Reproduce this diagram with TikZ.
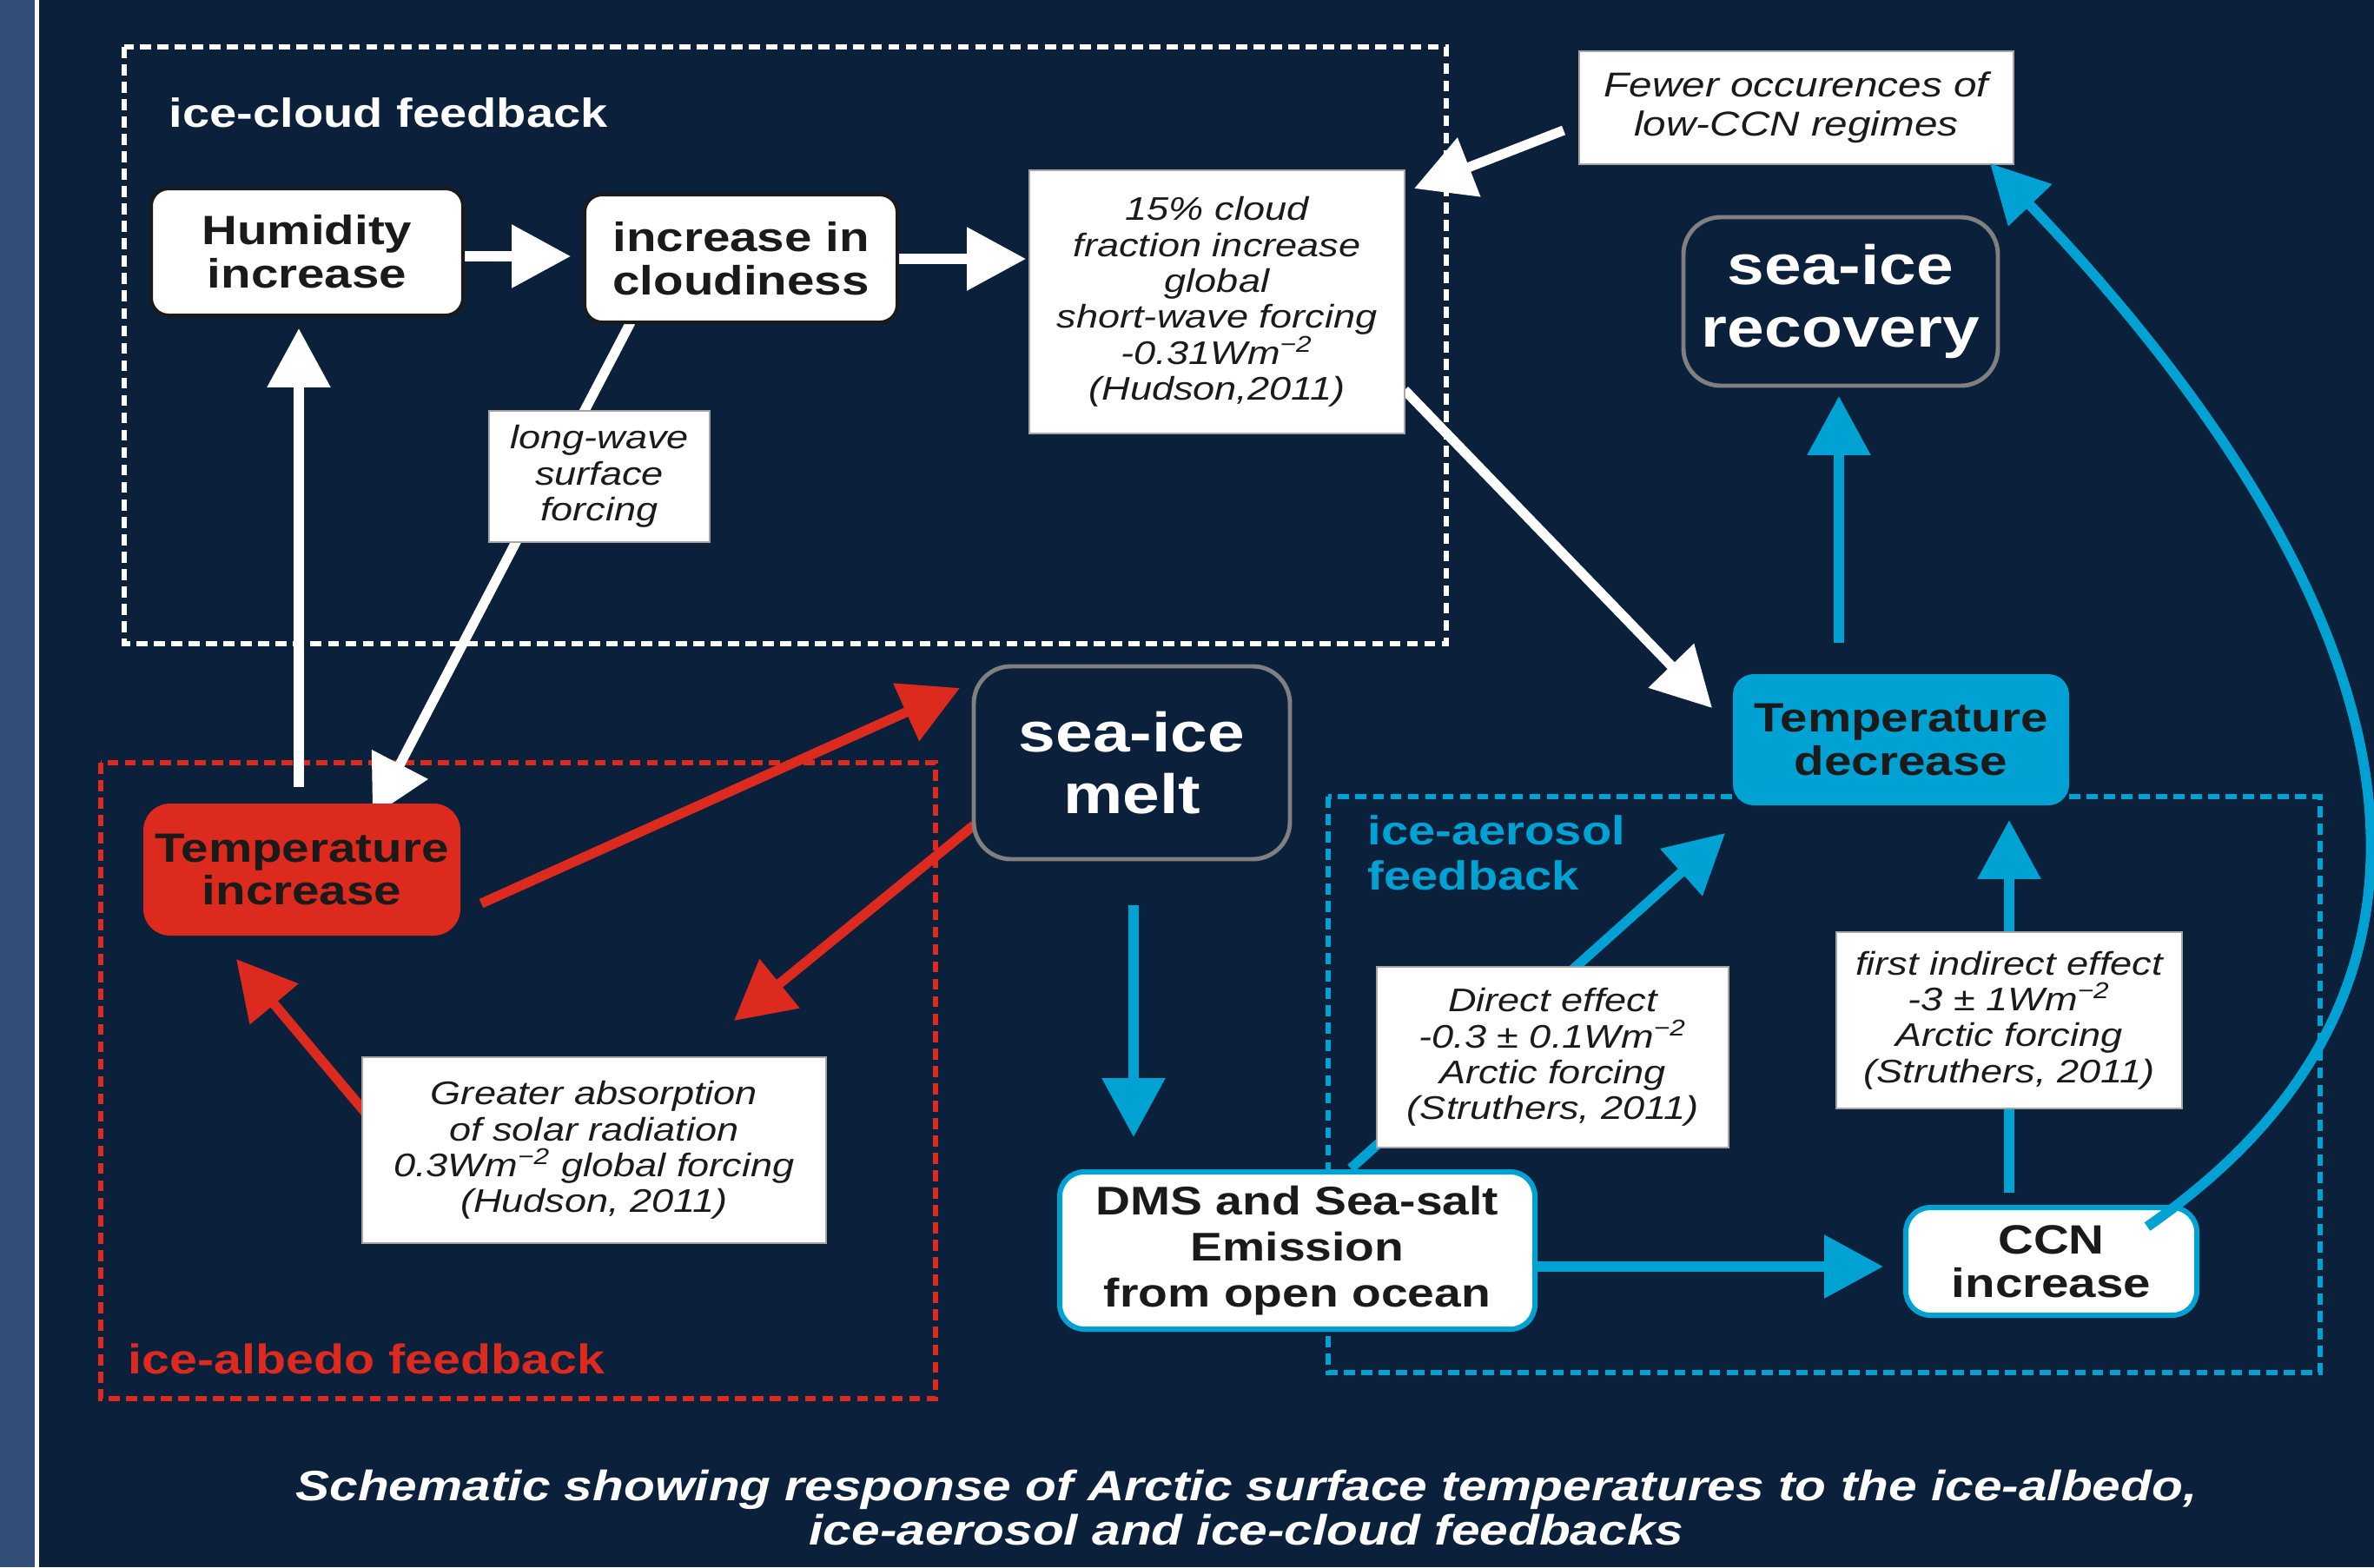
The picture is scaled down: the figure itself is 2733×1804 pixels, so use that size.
\documentclass[tikz,border=0pt]{standalone}
\usepackage{fontspec}
\setmainfont{Liberation Sans}[FakeStretch=1.2]
\usetikzlibrary{arrows.meta,calc}
\definecolor{navy}{RGB}{11,32,58}
\definecolor{stripblue}{RGB}{51,79,120}
\definecolor{fbred}{RGB}{220,43,30}
\definecolor{fbblue}{RGB}{0,161,211}
\definecolor{framegray}{RGB}{128,128,128}
\definecolor{inkdark}{RGB}{26,26,26}
\pgfdeclarelayer{back}
\pgfdeclarelayer{links}
\pgfsetlayers{back,links,main}
\tikzset{
  boldtxt/.style={font=\bfseries\fontsize{13.4}{14.2}\selectfont},
  bigtxt/.style={font=\bfseries\fontsize{18.2}{20.3}\selectfont},
  notetxt/.style={font=\itshape\fontsize{10.7}{11.8}\selectfont},
  whitebox/.style={boldtxt, draw=inkdark, line width=1.14pt, fill=white, text=inkdark,
    rounded corners=5.7pt, align=center, inner sep=0pt},
  redbox/.style={boldtxt, fill=fbred, text=inkdark, rounded corners=8.8pt, align=center, inner sep=0pt},
  bluebox/.style={boldtxt, fill=fbblue, text=inkdark, rounded corners=6.8pt, align=center, inner sep=0pt},
  darkbox/.style={bigtxt, draw=framegray, line width=1.4pt, fill=navy, text=white,
    rounded corners=12.2pt, align=center, inner sep=0pt},
  emitbox/.style={boldtxt, draw=fbblue, line width=1.7pt, fill=white, text=inkdark,
    rounded corners=8pt, align=center, inner sep=0pt},
  notebox/.style={notetxt, draw=gray!70, line width=0.3pt, fill=white, text=inkdark,
    align=center, inner sep=0pt},
  conn/.style={line width=3.2pt, -{Triangle[length=19.3pt,width=20pt]}},
  wconn/.style={conn, color=white},
  rconn/.style={conn, color=fbred},
  bconn/.style={conn, color=fbblue},
  groupframe/.style={line width=1.9pt, dash pattern=on 3.6pt off 2.1pt},
  grouplabel/.style={font=\bfseries\fontsize{13.3}{14.8}\selectfont, inner sep=0pt}
}
\begin{document}
\begin{tikzpicture}[x=0.1mm,y=-0.1mm]
\useasboundingbox (0,0) rectangle (2733,1804);
\begin{pgfonlayer}{back}
  \fill[navy] (0,0) rectangle (2733,1804);
  \fill[stripblue] (0,0) rectangle (40,1804);
  \fill[white] (40,0) rectangle (45,1804);
  \draw[groupframe, white] (143,54) rectangle (1665,741);
  \draw[groupframe, fbred] (116,878) rectangle (1077,1610);
  \draw[groupframe, fbblue] (1529,917) rectangle (2671,1580);
\end{pgfonlayer}

% group labels
\node[grouplabel, text=white, anchor=base west] (lblcloud) at (194,146) {ice-cloud feedback};
\node[grouplabel, text=fbred, anchor=base west, font=\bfseries\fontsize{13.6}{15}\selectfont] (lblalbedo) at (147,1581) {ice-albedo feedback};
\node[grouplabel, text=fbblue, anchor=north west, align=left] (lblaerosol) at (1574,938) {ice-aerosol\\feedback};

% nodes
\node[whitebox, minimum width=35.9mm, minimum height=14.6mm] (hum) at (353.5,290) {Humidity\\increase};
\node[whitebox, minimum width=36.0mm, minimum height=14.7mm] (cloud) at (853,297.5) {increase in\\cloudiness};
\node[notebox, minimum width=43.2mm, minimum height=30.3mm] (cf15) at (1401,347.5)
  {15\% cloud\\fraction increase\\global\\short-wave forcing\\-0.31Wm\textsuperscript{−2}\\(Hudson,2011)};
\node[notebox, font=\itshape\fontsize{11.3}{12.8}\selectfont, minimum width=50mm, minimum height=13mm] (fewer) at (2068,124)
  {Fewer occurences of\\low-CCN regimes};
\node[darkbox, minimum width=36.2mm, minimum height=19.4mm] (recov) at (2119,347) {sea-ice\\recovery};
\node[bluebox, minimum width=38.7mm, minimum height=15.1mm] (tdec) at (2188.5,851.5) {Temperature\\decrease};
\node[redbox, minimum width=36.5mm, minimum height=15.2mm] (tinc) at (347.5,1001) {Temperature\\increase};
\node[darkbox, minimum width=36.4mm, minimum height=22.2mm] (melt) at (1303,878) {sea-ice\\melt};
\node[notebox, minimum width=25.4mm, minimum height=15.1mm] (lw) at (690,548.5) {long-wave\\surface\\forcing};
\node[notebox, minimum width=53.4mm, minimum height=21.4mm] (grt) at (684,1324)
  {Greater absorption\\of solar radiation\\0.3Wm\textsuperscript{−2} global forcing\\(Hudson, 2011)};
\node[emitbox, font=\bfseries\fontsize{13.1}{15.1}\selectfont, minimum width=54.7mm, minimum height=18.1mm] (dms) at (1493.5,1439.5)
  {DMS and Sea-salt\\Emission\\from open ocean};
\node[emitbox, minimum width=33.5mm, minimum height=12.4mm] (ccn) at (2361.5,1452) {CCN\\increase};
\node[notebox, minimum width=40.5mm, minimum height=20.8mm] (dir) at (1787.5,1217)
  {Direct effect\\-0.3 ± 0.1Wm\textsuperscript{−2}\\Arctic forcing\\(Struthers, 2011)};
\node[notebox, minimum width=39.8mm, minimum height=20.3mm] (fie) at (2313,1174.5)
  {first indirect effect\\-3 ± 1Wm\textsuperscript{−2}\\Arctic forcing\\(Struthers, 2011)};

\node[text=white, align=center, inner sep=0pt, font=\bfseries\itshape\fontsize{13.9}{14.5}\selectfont] (caption) at (1435,1736)
  {Schematic showing response of Arctic surface temperatures to the ice-albedo,\\ice-aerosol and ice-cloud feedbacks};

% connectors (behind the boxes)
\begin{pgfonlayer}{links}
  \coordinate (hcTip) at (657,295);
  \draw[wconn] (hum.east |- hcTip) -- (hcTip);
  \coordinate (ccTip) at (1181,298);
  \draw[wconn] (cloud.east |- ccTip) -- (ccTip);
  \coordinate (fwStart) at (1800,150);
  \coordinate (fwTip) at (1628,217);
  \draw[wconn] (fwStart) -- (fwTip);
  \coordinate (swStart) at (1617,449);
  \coordinate (swTip) at (1971,815);
  \draw[wconn] (swStart) -- (swTip);
  \coordinate (upStart) at (344,906);
  \coordinate (upTip) at (344,378);
  \draw[wconn] (upStart) -- (upTip);
  \coordinate (lwStart) at (726,371);
  \coordinate (lwTip) at (429,940);
  \draw[wconn] (lwStart) -- (lwTip);
  \coordinate (r1Start) at (554,1040);
  \coordinate (r1Tip) at (1105,792);
  \draw[rconn] (r1Start) -- (r1Tip);
  \coordinate (r2Start) at (1121,950);
  \coordinate (r2Tip) at (845,1175);
  \draw[rconn] (r2Start) -- (r2Tip);
  \coordinate (r3Start) at (431,1293);
  \coordinate (r3Tip) at (272,1104);
  \draw[rconn] (r3Start) -- (r3Tip);
  \coordinate (mdStart) at (1305,1042);
  \coordinate (mdTip) at (1305,1309);
  \draw[bconn] (mdStart) -- (mdTip);
  \coordinate (dcTip) at (2168,1458);
  \draw[bconn] (dms.east |- dcTip) -- (dcTip);
  \coordinate (deStart) at (1555,1345);
  \coordinate (deTip) at (1986,959);
  \draw[bconn] (deStart) -- (deTip);
  \coordinate (ieStart) at (2313,1373);
  \coordinate (ieTip) at (2313,944);
  \draw[bconn] (ieStart) -- (ieTip);
  \coordinate (rcStart) at (2117,740);
  \coordinate (rcTip) at (2117,456);
  \draw[bconn] (rcStart) -- (rcTip);
\end{pgfonlayer}

% curved return arrow, drawn over the CCN box
\coordinate (cvStart) at (2472,1412);
\coordinate (cvTip) at (2291,188);
\draw[line width=3.3pt, color=fbblue, -{Triangle[length=19pt,width=19pt]}]
  (cvStart) .. controls (2962,1072) and (2659,572) .. (cvTip);
\end{tikzpicture}
\end{document}
